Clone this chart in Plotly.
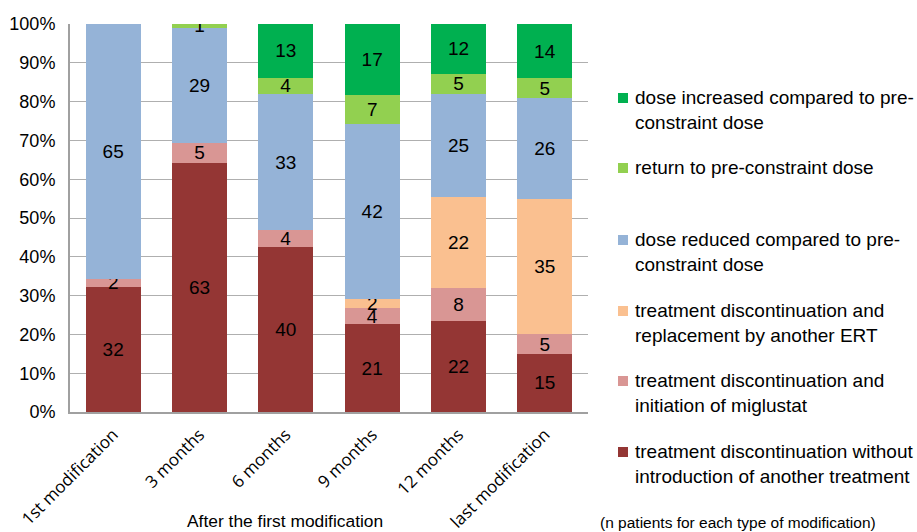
import plotly.graph_objects as go

categories = ["1st modification", "3 months", "6 months", "9 months", "12 months", "last modification"]

series_names = [
    "treatment discontinuation without<br>introduction of another treatment",
    "treatment discontinuation and<br>initiation of miglustat",
    "treatment discontinuation and<br>replacement by another ERT",
    "dose reduced compared to pre-<br>constraint dose",
    "return to pre-constraint dose",
    "dose increased compared to pre-<br>constraint dose",
]
series_colors = ["#943634", "#D99694", "#FAC090", "#95B3D7", "#92D050", "#00B050"]

disc_no_treatment = [32, 63, 40, 21, 22, 15]
disc_miglustat = [2, 5, 4, 4, 8, 5]
disc_other_ert = [0, 0, 0, 2, 22, 35]
dose_reduced = [65, 29, 33, 42, 25, 26]
return_pre = [0, 1, 4, 7, 5, 5]
dose_increased = [0, 0, 13, 17, 12, 14]

series_values = [disc_no_treatment, disc_miglustat, disc_other_ert, dose_reduced, return_pre, dose_increased]

FONT = "Liberation Sans, Arial, sans-serif"

fig = go.Figure()
for name, color, vals in zip(series_names, series_colors, series_values):
    fig.add_trace(go.Bar(
        x=categories, y=vals, name=name,
        marker=dict(color=color, line=dict(width=0)),
        text=[str(v) if v else "" for v in vals],
        textposition="inside", insidetextanchor="middle",
        textfont=dict(family=FONT, size=19, color="black"),
        textangle=0, constraintext="none",
        showlegend=False, hoverinfo="skip",
    ))

fig.update_layout(
    barmode="stack", barnorm="percent", bargap=0.36,
    width=917, height=532,
    margin=dict(l=70, r=329, t=24, b=120, autoexpand=False),
    paper_bgcolor="white", plot_bgcolor="white",
    uniformtext=dict(minsize=19, mode="show"),
    font=dict(family=FONT, color="black"),
)
fig.update_yaxes(
    range=[0, 100], dtick=10, ticksuffix="%", automargin=False,
    showgrid=True, gridcolor="#AFAFAF", gridwidth=1.3,
    showline=True, linecolor="#A0A0A0", linewidth=2,
    ticks="outside", ticklen=9, tickcolor="rgba(0,0,0,0)",
    tickfont=dict(size=18, family=FONT),
    zeroline=False,
)
fig.update_xaxes(
    tickangle=-45, showline=True, linecolor="#A0A0A0", linewidth=2, automargin=False,
    tickfont=dict(size=17, family="Open Sans, sans-serif"),
    ticks="outside", ticklen=4, tickcolor="rgba(0,0,0,0)", range=[-0.5, 5.5],
)

# x-axis title
fig.add_annotation(text="After the first modification", xref="paper", yref="paper",
                   x=(285 - 70) / 518, y=-(521 - 412) / 388, showarrow=False,
                   font=dict(size=17.4), xanchor="center", yanchor="middle")

# manual legend (top to bottom: reversed stack order)
legend_y = [98, 168, 240, 311, 381, 452]
for i, (name, color) in enumerate(zip(series_names[::-1], series_colors[::-1])):
    yc = legend_y[i]
    fig.add_shape(type="rect", xref="paper", yref="paper",
                  x0=(618 - 70) / 518, x1=(628 - 70) / 518,
                  y0=(412 - (yc + 5)) / 388, y1=(412 - (yc - 5)) / 388,
                  fillcolor=color, line=dict(width=0))
    fig.add_annotation(text=name, xref="paper", yref="paper",
                       x=(633 - 70) / 518, y=(412 - (yc - 13)) / 388,
                       showarrow=False, xanchor="left", yanchor="top", align="left",
                       font=dict(size=19))

fig.add_annotation(text="(n patients for each type of modification)", xref="paper", yref="paper",
                   x=(598 - 70) / 518, y=-(522 - 412) / 388, showarrow=False,
                   xanchor="left", yanchor="middle", font=dict(size=15.5))

fig.write_html("out.html")
